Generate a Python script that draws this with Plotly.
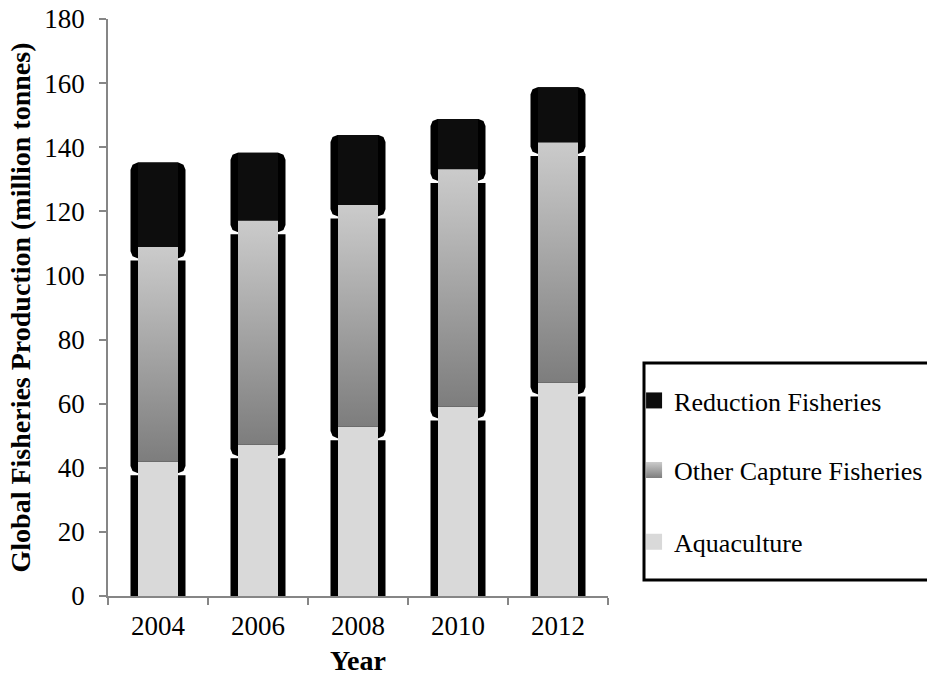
import plotly.graph_objects as go

# Global fisheries production by sector (million tonnes)
years = [2004, 2006, 2008, 2010, 2012]
aquaculture = [41.9, 47.2, 52.8, 59.0, 66.5]
other_capture = [67.0, 69.9, 69.2, 74.1, 75.0]
reduction = [26.3, 21.2, 21.8, 15.7, 17.2]
series_names = ["Reduction Fisheries", "Other Capture Fisheries", "Aquaculture"]
year_labels = [str(y) for y in years]
y_ticks = list(range(0, 181, 20))

FONT = "Liberation Serif"
AXIS_GREY = "#868686"
FILL_HALF = 0.4     # half width of the coloured column (years)
FRAME_HALF = 0.55   # half width of the black frame behind it (years)
FRAME_DROP = 3.9    # frame joints sit slightly below the colour joints
FRAME_GAP = 0.7     # white notch between frame pieces
BEVEL_X = 0.14      # corner bevel, in years
BEVEL_Y = 2.2       # corner bevel, in million tonnes
K = 0.293           # 45-degree point of a quarter circle

C_RED = "#0d0d0d"
C_OTHER_TOP = "#cbcbcb"
C_OTHER_BOTTOM = "#7d7d7d"
C_AQUA = "#d9d9d9"

other_top = [a + o for a, o in zip(aquaculture, other_capture)]
total = [t + r for t, r in zip(other_top, reduction)]

j1_lo = [a - FRAME_DROP - FRAME_GAP / 2 for a in aquaculture]
j1_hi = [a - FRAME_DROP + FRAME_GAP / 2 for a in aquaculture]
j2_lo = [t - FRAME_DROP - FRAME_GAP / 2 for t in other_top]
j2_hi = [t - FRAME_DROP + FRAME_GAP / 2 for t in other_top]


def column(xc, lo, hi, half, bevel_bottom=False, bevel_top=False):
    """Outline of one column piece, optionally with softened corners."""
    x0, x1 = xc - half, xc + half
    if bevel_bottom:
        pts = [(x0, lo + BEVEL_Y), (x0 + BEVEL_X * K, lo + BEVEL_Y * K), (x0 + BEVEL_X, lo),
               (x1 - BEVEL_X, lo), (x1 - BEVEL_X * K, lo + BEVEL_Y * K), (x1, lo + BEVEL_Y)]
    else:
        pts = [(x0, lo), (x1, lo)]
    if bevel_top:
        pts += [(x1, hi - BEVEL_Y), (x1 - BEVEL_X * K, hi - BEVEL_Y * K), (x1 - BEVEL_X, hi),
                (x0 + BEVEL_X, hi), (x0 + BEVEL_X * K, hi - BEVEL_Y * K), (x0, hi - BEVEL_Y)]
    else:
        pts += [(x1, hi), (x0, hi)]
    pts.append(pts[0])
    return [p[0] for p in pts], [p[1] for p in pts]


def pieces(los, his, half, **kw):
    xs, ys = [], []
    for xc, lo, hi in zip(years, los, his):
        px, py = column(xc, lo, hi, half, **kw)
        xs += px + [None]
        ys += py + [None]
    return xs, ys


def solid(xs, ys, color):
    return go.Scatter(x=xs, y=ys, mode="lines", line=dict(width=0), fill="toself",
                      fillcolor=color, showlegend=False, hoverinfo="skip")


fig = go.Figure()

# black frame pieces behind each column
fig.add_trace(solid(*pieces([0] * len(years), j1_lo, FRAME_HALF), "black"))
fig.add_trace(solid(*pieces(j1_hi, j2_lo, FRAME_HALF, bevel_bottom=True), "black"))
fig.add_trace(solid(*pieces(j2_hi, total, FRAME_HALF, bevel_bottom=True, bevel_top=True), "black"))

# coloured columns
fig.add_trace(solid(*pieces([0] * len(years), aquaculture, FILL_HALF), C_AQUA))
fig.add_trace(solid(*pieces(other_top, total, FILL_HALF), C_RED))
for yr, lo, hi in zip(years, aquaculture, other_top):
    px, py = column(yr, lo, hi, FILL_HALF)
    fig.add_trace(go.Scatter(
        x=px, y=py, mode="lines", line=dict(width=0), fill="toself",
        fillgradient=dict(type="vertical",
                          colorscale=[[0, C_OTHER_BOTTOM], [1, C_OTHER_TOP]]),
        showlegend=False, hoverinfo="skip", name=series_names[1]))

# legend keys, one legend each
legend_keys = [
    (series_names[0], dict(color=C_RED), "legend", 0.4075),
    (series_names[1], dict(color=C_OTHER_TOP,
                           gradient=dict(type="vertical", color=C_OTHER_BOTTOM)),
     "legend2", 0.3045),
    (series_names[2], dict(color=C_AQUA), "legend3", 0.1983),
]
legend_layout = {}
for name, mk, lg, ypos in legend_keys:
    fig.add_trace(go.Scatter(x=[None], y=[None], mode="markers", name=name,
                             marker=dict(mk, symbol="square", size=16,
                                         line=dict(width=0)),
                             legend=lg, showlegend=True))
    legend_layout[lg] = dict(x=0.684, y=ypos, xref="container", yref="container",
                             xanchor="left", yanchor="middle",
                             bgcolor="rgba(0,0,0,0)", borderwidth=0,
                             font=dict(family=FONT, size=26, color="black"))

fig.update_layout(
    width=927, height=676,
    margin=dict(l=108, r=319, t=19, b=80, autoexpand=False),
    paper_bgcolor="white", plot_bgcolor="white",
    font=dict(family=FONT, size=26, color="black"),
    **legend_layout,
)

fig.update_xaxes(
    range=[2003, 2013], tickvals=years, ticktext=year_labels,
    ticks="", showline=True, linecolor=AXIS_GREY, linewidth=1.5,
    showgrid=False, zeroline=False, ticklabelstandoff=5,
    tickfont=dict(family=FONT, size=27, color="black"),
    minor=dict(ticks="outside", tick0=2003, dtick=2, ticklen=7,
               tickcolor=AXIS_GREY, tickwidth=1.5, showgrid=False),
)
fig.update_yaxes(
    range=[0, 180], tickvals=y_ticks,
    ticks="outside", ticklen=7, tickcolor=AXIS_GREY, tickwidth=1.5,
    showline=True, linecolor=AXIS_GREY, linewidth=1.5,
    showgrid=False, zeroline=False, ticklabelstandoff=9,
    tickfont=dict(family=FONT, size=27, color="black"),
    title=dict(text="Global Fisheries Production (million tonnes)", standoff=6,
               font=dict(family=FONT, size=28, color="black", weight="bold")),
)

# x-axis title
fig.add_annotation(text="Year", xref="paper", x=0.5, yref="paper", y=-0.111,
                   xanchor="center", yanchor="middle", showarrow=False,
                   font=dict(family=FONT, size=28, color="black", weight="bold"))

# box round the legend
fig.add_shape(type="rect", xref="paper", yref="paper",
              x0=1.072, x1=1.66, y0=0.0277, y1=0.4038,
              line=dict(color="black", width=3), fillcolor="rgba(0,0,0,0)",
              layer="above")

fig.write_html("out.html")
